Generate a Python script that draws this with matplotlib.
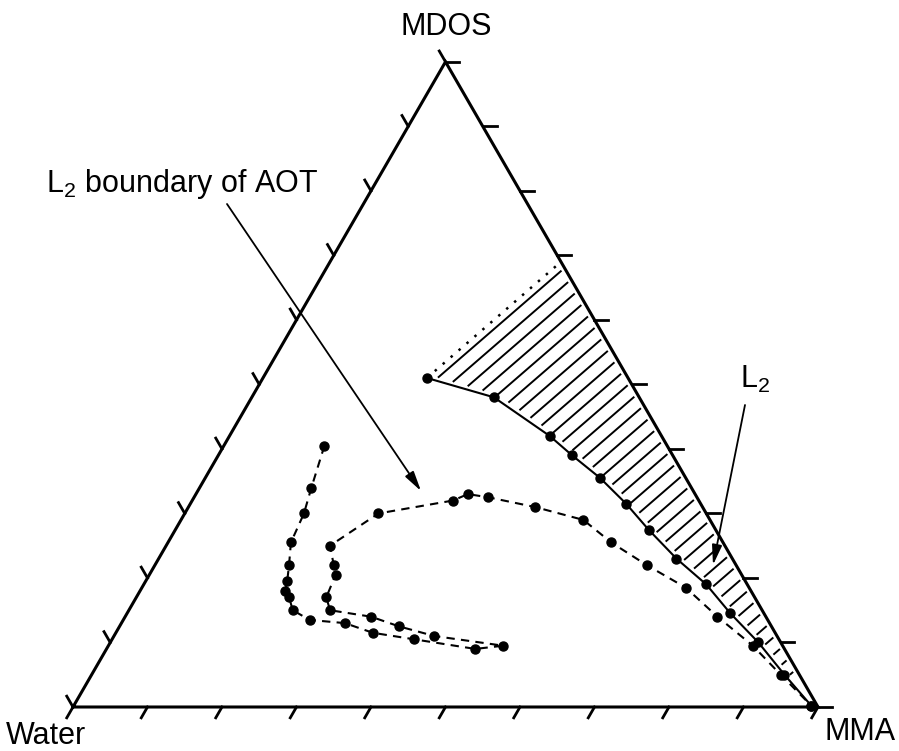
import numpy as np
import matplotlib
matplotlib.use("Agg")
import matplotlib.pyplot as plt

plt.rcParams['font.family'] = ['Liberation Sans', 'DejaVu Sans']
plt.rcParams['mathtext.fontset'] = 'custom'
plt.rcParams['mathtext.rm'] = 'Liberation Sans'
plt.rcParams['mathtext.it'] = 'Liberation Sans:italic'

# compositions in wt% (water = 100 - MMA - MDOS)
# L2 phase boundary, solid line
l2_mma = [22, 32.5, 43, 47.5, 53, 58.5, 63.5, 69.5, 75.5, 81, 87, 93, 99]
l2_mdos = [51, 48, 42, 39, 35.5, 31.5, 27.5, 23, 19, 14.5, 10, 5, 0.2]
# upper corner of the L2 region, on the MDOS-MMA side
l2_top_mma, l2_top_mdos = 31, 69

# L2 boundary of AOT, dashed line
aot_mma = [13.5, 15, 16, 16.5, 18, 19, 19.5, 20.5, 22, 25, 30, 34.5, 40.5, 49.5, 53,
           43, 37.5, 33, 27, 25.5, 25, 24, 22, 26, 35, 36.5, 39.5, 46.5, 54, 59.5,
           66, 73, 79.5, 86.5, 92.5, 99]
aot_mdos = [40.5, 34, 30, 25.5, 22, 19.5, 18, 17, 15, 13.5, 13, 11.5, 10.5, 9, 9.5,
            11, 12.5, 14, 15, 17, 20.5, 22, 25, 30, 32, 33, 32.5, 31, 29, 25.5,
            22, 18.5, 14, 9.5, 5, 0.2]

tick_frac = np.linspace(0, 1, 11)

S = 745.0  # triangle side in pixels


def tern(mma, mdos):
    a = np.asarray(mma, float) / 100
    b = np.asarray(mdos, float) / 100
    return a + b / 2, b * np.sqrt(3) / 2


def pix(x, y):
    return (x - 73) / S, (707 - y) / S


fig = plt.figure(figsize=(8.99, 7.51), dpi=100)
ax = fig.add_axes([0, 0, 1, 1])
ax.set_xlim(-73 / S, 826 / S)
ax.set_ylim(-44 / S, 707 / S)
ax.axis('off')

h = np.sqrt(3) / 2
# frame
ax.plot([0, 1, 0.5, 0], [0, 0, h, 0], color='black', lw=2.2, solid_joinstyle='miter', zorder=5)

# ticks
tl = 12.5 / S
for f in tick_frac:
    # bottom side, pointing down-left
    ax.plot([f, f - 0.5 * tl], [0, -h * tl], color='black', lw=2.0, zorder=5)
    # right side, horizontal to the right
    x0, y0 = 1 - 0.5 * f, h * f
    ax.plot([x0, x0 + 1.1 * tl], [y0, y0], color='black', lw=2.0, zorder=5)
    # left side, pointing up-left
    x1, y1 = 0.5 * f, h * f
    ax.plot([x1, x1 - 0.5 * tl], [y1, y1 + h * tl], color='black', lw=2.0, zorder=5)

# hatched L2 region
lx, ly = tern(l2_mma, l2_mdos)
tx, ty = tern(l2_top_mma, l2_top_mdos)
poly = np.array(list(zip(lx, ly)) + [(1.0, 0.0), (float(tx), float(ty)), (lx[0], ly[0])])
d = np.array([float(tx) - lx[0], float(ty) - ly[0]])
d = d / np.hypot(*d)
n = np.array([-d[1], d[0]])
proj = poly @ n
gap = 5 / S
step = 13 / S
for c in np.arange(proj.max() - 7 / S, proj.min(), -step):
    ts = []
    for p0, p1 in zip(poly[:-1], poly[1:]):
        a0, a1 = p0 @ n - c, p1 @ n - c
        if a0 * a1 <= 0 and a0 != a1:
            s = a0 / (a0 - a1)
            q = p0 + s * (p1 - p0)
            ts.append(q @ d)
    if len(ts) < 2:
        continue
    t0, t1 = min(ts) + gap, max(ts) - gap
    if t1 <= t0:
        continue
    base = c * n
    ax.plot([base[0] + t0 * d[0], base[0] + t1 * d[0]],
            [base[1] + t0 * d[1], base[1] + t1 * d[1]],
            color='black', lw=1.4, zorder=2)

# dotted upper edge of the region
ax.plot([lx[0], tx], [ly[0], ty], color='black', lw=1.8,
        linestyle=(0, (1, 3.2)), zorder=3)

# L2 boundary, solid
ax.plot(lx, ly, color='black', lw=1.5, marker='o', markersize=6.5, zorder=4)

# AOT boundary, dashed
axx, ayy = tern(aot_mma, aot_mdos)
ax.plot(axx, ayy, color='black', lw=1.5, dashes=(4, 3), marker='o',
        markersize=6.5, zorder=4)

# labels
fs = 22
ax.text(*pix(446, 35), 'MDOS', fontsize=fs, ha='center', va='baseline')
ax.text(*pix(6, 744), 'Water', fontsize=fs, ha='left', va='baseline')
ax.text(*pix(825, 740), 'MMA', fontsize=fs, ha='left', va='baseline')
ax.text(*pix(318, 192), r'L$_{2}$ boundary of AOT', fontsize=fs, ha='right', va='baseline')
ax.text(*pix(740, 388), r'L$_{2}$', fontsize=fs, ha='left', va='baseline')

arrow = dict(arrowstyle='-|>,head_length=1.2,head_width=0.3', color='black',
             lw=1.3, shrinkA=0, shrinkB=0, mutation_scale=10)
ax.annotate('', xy=pix(421, 491), xytext=pix(227, 204), arrowprops=arrow, zorder=6)
ax.annotate('', xy=pix(713, 565), xytext=pix(745, 405), arrowprops=arrow, zorder=6)

fig.savefig('out.png', dpi=100)
